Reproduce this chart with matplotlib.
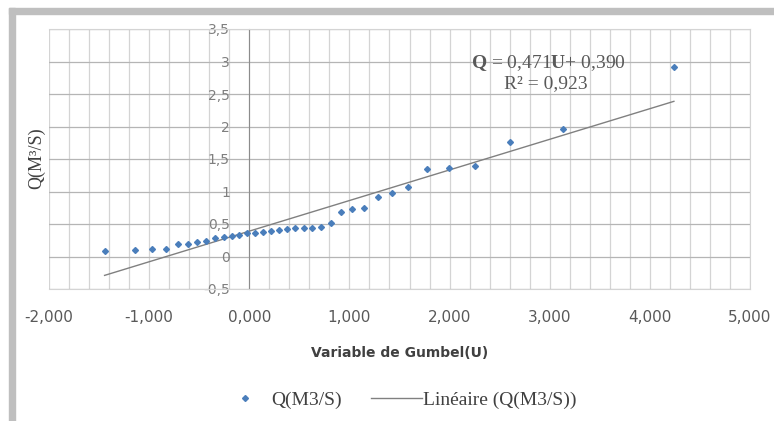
"""Gumbel fit: Q(M3/S) vs reduced variable U, with the linear trend line."""

import matplotlib
matplotlib.use("Agg")
import matplotlib.pyplot as plt
from matplotlib.patches import Rectangle
from matplotlib.ticker import FuncFormatter, MultipleLocator

plt.rcParams["mathtext.fontset"] = "custom"
plt.rcParams["mathtext.rm"] = "Liberation Serif"
plt.rcParams["mathtext.bf"] = "Liberation Serif:bold"

# values
u = [-1.445, -1.146, -0.972, -0.832, -0.716, -0.616, -0.520, -0.430, -0.340,
     -0.257, -0.177, -0.100, -0.023, 0.053, 0.133, 0.213, 0.293, 0.376, 0.460,
     0.543, 0.630, 0.720, 0.820, 0.920, 1.030, 1.150, 1.286, 1.425, 1.585,
     1.775, 1.990, 2.255, 2.607, 3.130, 4.240]
q = [0.09, 0.10, 0.11, 0.11, 0.19, 0.20, 0.23, 0.24, 0.28, 0.295, 0.315, 0.335,
     0.365, 0.365, 0.38, 0.40, 0.41, 0.43, 0.44, 0.44, 0.44, 0.45, 0.52, 0.685,
     0.735, 0.745, 0.91, 0.98, 1.07, 1.345, 1.355, 1.40, 1.76, 1.955, 2.915]
slope, intercept, r2 = 0.471, 0.390, 0.923

SERIF = "Liberation Serif"
W, H = 774, 421

fig = plt.figure(figsize=(W / 100, H / 100), dpi=100)
ax = fig.add_axes([49 / W, 1 - 289 / H, 701 / W, 260 / H])

# trend line over the data range
u_fit = [min(u), max(u)]
q_fit = [slope * x + intercept for x in u_fit]
ax.plot(u_fit, q_fit, "-", color="#808080", lw=1.0, label="Linéaire (Q(M3/S))", zorder=3)
ax.plot(u, q, "D", ms=3.0, color="#4a7ebb", mec="#4a7ebb", ls="none", label="Q(M3/S)", zorder=4)

ax.set_xlim(-2, 5); ax.set_ylim(-0.5, 3.5)
ax.xaxis.set_major_locator(MultipleLocator(1))
ax.xaxis.set_minor_locator(MultipleLocator(0.2))
ax.yaxis.set_major_locator(MultipleLocator(0.5))
ax.grid(axis="x", which="both", color="#d4d4d4", lw=0.9)
ax.grid(axis="y", which="major", color="#b5b5b5", lw=0.9)
ax.set_axisbelow(True)

ax.xaxis.set_major_formatter(FuncFormatter(lambda v, p: f"{v:.3f}".replace(".", ",")))
ax.yaxis.set_major_formatter(FuncFormatter(lambda v, p: f"{v:g}".replace(".", ",")))
ax.tick_params(axis="x", which="both", length=0, pad=15, labelsize=11, labelcolor="#595959")
ax.tick_params(axis="y", which="both", length=0, pad=14, labelcolor="#7f7f7f")
for lab in ax.get_yticklabels():
    lab.set_fontfamily(SERIF); lab.set_fontsize(12.5)

ax.spines["left"].set_position(("data", 0))
ax.spines["left"].set_color("#8c8c8c")
for s in ("top", "right", "bottom"):
    ax.spines[s].set_color("#d4d4d4")

fig.text(36.7 / W, 1 - 158 / H, "Q(M³/S)", rotation=90, ha="center", va="center",
         family=SERIF, fontsize=13, color="#404040")
fig.text(400 / W, 1 - 353 / H, "Variable de Gumbel(U)", ha="center", va="center",
         fontsize=10, fontweight="bold", color="#404040")

fig.text(548 / W, 1 - 63 / H, r"$\mathbf{Q}$ = 0,471$\mathbf{U}$+ 0,390", ha="center",
         va="center", family=SERIF, fontsize=14, color="#595959")
fig.text(546 / W, 1 - 84 / H, "R² = 0,923", ha="center", va="center",
         family=SERIF, fontsize=14, color="#595959")

h, l = ax.get_legend_handles_labels()
fig.legend(h[::-1], l[::-1], loc="center", bbox_to_anchor=(398 / W, 1 - 400 / H), ncol=2,
           frameon=False, handlelength=2.6, handletextpad=0.05, columnspacing=1.5,
           prop={"family": SERIF, "size": 14}, labelcolor="#404040")

# grey L-shaped frame of the original screenshot
fig.patches.append(Rectangle((9 / W, 1 - 14 / H), 1, 6 / H, transform=fig.transFigure,
                             color="#bfbfbf", zorder=0))
fig.patches.append(Rectangle((9 / W, 0), 6 / W, 1 - 8 / H, transform=fig.transFigure,
                             color="#bfbfbf", zorder=0))

fig.savefig("out.png", dpi=100)
